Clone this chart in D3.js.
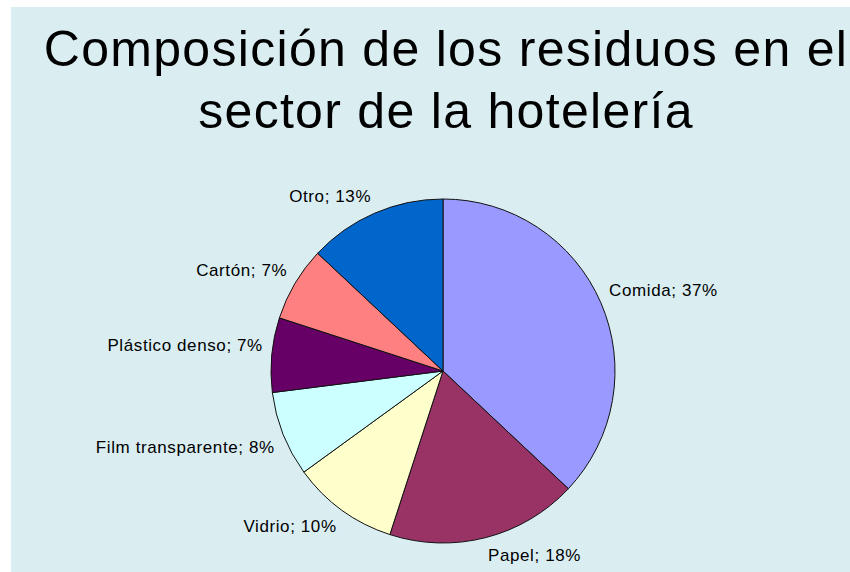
<!DOCTYPE html>
<html>
<head>
<meta charset="utf-8">
<script src="https://cdn.jsdelivr.net/npm/d3@7"></script>
<style>
  body { margin: 0; background: #ffffff; }
  svg { display: block; }
</style>
</head>
<body>
<svg></svg>
<script>
const w = 850;
const h = 572;

// data
const categories = ["Comida", "Papel", "Vidrio", "Film transparente", "Plástico denso", "Cartón", "Otro"];
const values = [37, 18, 10, 8, 7, 7, 13];
const colors = ["#9999ff", "#993366", "#ffffcc", "#ccffff", "#660066", "#ff8080", "#0066cc"];
const titleLines = ["Composición de los residuos en el", "sector de la hotelería"];

const data = categories.map((c, i) => ({ name: c, value: values[i], color: colors[i] }));

const cx = 443;
const cy = 371;
const radius = 172;

let svg = d3.select("svg")
    svg.attr("width", w)
    svg.attr("height", h);

// slide background
svg.append("rect")
   .attr("x", 11)
   .attr("y", 7)
   .attr("width", w - 11)
   .attr("height", h - 7)
   .attr("fill", "#daeef2");

// title
svg.append("g")
   .selectAll("text")
   .data(titleLines)
   .enter()
   .append("text")
   .attr("x", 446)
   .attr("y", (d, i) => 66 + i * 62)
   .attr("text-anchor", "middle")
   .style("font-family", "'Liberation Sans', Arial, sans-serif")
   .style("font-size", "50px")
   .style("letter-spacing", "1.3px")
   .attr("fill", "#000")
   .text(d => d);

let pie = d3.pie()
            .value(d => d.value)
            .sort(null);

let arc = d3.arc()
            .innerRadius(0)
            .outerRadius(radius);

let arcs = pie(data);

let g = svg.append("g")
           .attr("transform", `translate(${cx}, ${cy})`);

g.selectAll("path")
 .data(arcs)
 .enter()
 .append("path")
 .attr("d", arc)
 .attr("fill", d => d.data.color)
 .attr("stroke", "#111")
 .attr("stroke-width", 1)
 .attr("stroke-linejoin", "round");

// labels: the box corner nearest the centre sits just outside the rim
const labelR = radius + 9;

g.selectAll("text")
 .data(arcs)
 .enter()
 .append("text")
 .each(function (d) {
     let a = (d.startAngle + d.endAngle) / 2;
     let px = Math.sin(a) * labelR;
     let py = -Math.cos(a) * labelR;
     let t = d3.select(this);
     t.attr("text-anchor", Math.sin(a) >= 0 ? "start" : "end")
      .attr("x", px)
      .attr("y", Math.cos(a) >= 0 ? py - 3 : py + 15);
 })
 .style("font-family", "'Liberation Sans', Arial, sans-serif")
 .style("font-size", "17px")
 .style("letter-spacing", "0.6px")
 .attr("fill", "#000")
 .text(d => `${d.data.name}; ${d.data.value}%`);
</script>
</body>
</html>
